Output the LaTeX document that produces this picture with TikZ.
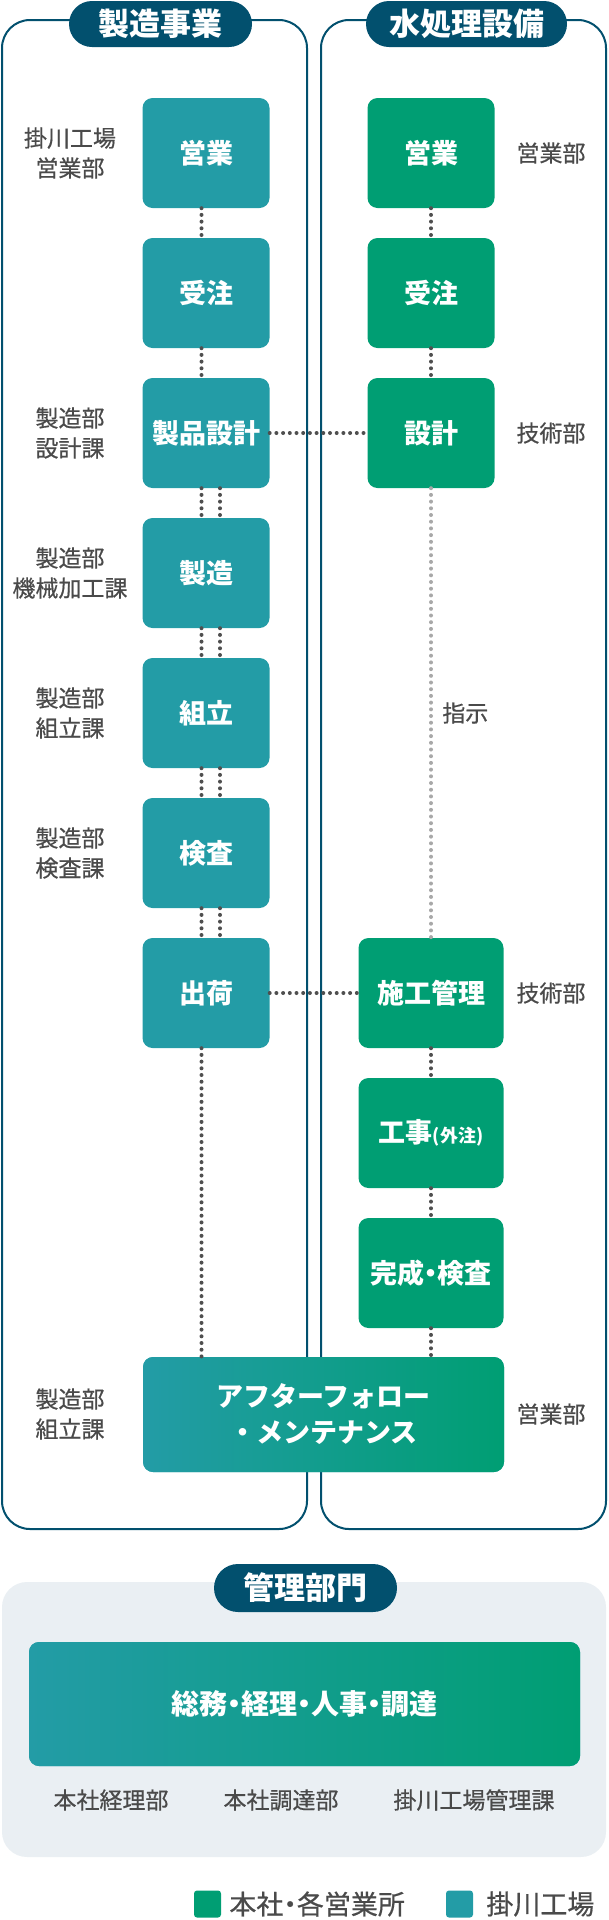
\documentclass[tikz,border=0pt]{standalone}
\usepackage{fontspec}
\setmainfont{Noto Sans CJK JP}
\newfontfamily\medfont{Noto Sans CJK JP}[FakeBold=0.6]
\usepackage{xcolor}
\usepackage{tikz}
\usetikzlibrary{positioning}
\definecolor{facteal}{HTML}{239CA6}
\definecolor{ofcgreen}{HTML}{009E73}
\definecolor{navy}{HTML}{02506E}
\definecolor{labelgray}{HTML}{4A4A4A}
\definecolor{dotgray}{HTML}{4F4F4F}
\definecolor{hintgray}{HTML}{A8A8A8}
\definecolor{bggray}{HTML}{EAEFF3}
\newcommand{\ndot}{\kern-.25em・\kern-.25em}
\tikzset{
  fac/.style={rectangle, rounded corners=10pt, fill=facteal, text=white,
              font=\fontsize{27}{32}\selectfont\bfseries, minimum width=127pt,
              minimum height=110pt, align=center, inner sep=2pt},
  ofc/.style={fac, fill=ofcgreen},
  ttl/.style={rectangle, rounded corners=23pt, fill=navy, text=white,
              font=\fontsize{31}{36}\selectfont\bfseries, minimum height=46pt, inner sep=0pt},
  dept/.style={font=\medfont\fontsize{23}{30}\selectfont, text=labelgray, align=center},
  link/.style={draw=dotgray, line width=4pt, line cap=round, dash pattern=on 0pt off 6.7pt},
  hint/.style={link, draw=hintgray},
  panel/.style={draw=navy, line width=2pt, rounded corners=28pt},
  sq/.style={rectangle, rounded corners=3pt, minimum size=27pt, inner sep=0pt}
}

\begin{document}
\begin{tikzpicture}[x=1pt, y=-1pt]
  \useasboundingbox (0,0) rectangle (609,1920);
  % Panels
  \draw[panel] (2,20) rectangle (307,1529);
  \draw[panel] (321,20) rectangle (606,1529);
  \node[ttl, minimum width=183pt] (tmfg) at (160.5,24) {製造事業};
  \node[ttl, minimum width=201pt] (twtr) at (466.5,24) {水処理設備};
  % Factory column
  \node[fac] (s1) at (206,153) {営業};
  \node[fac] (s2) at (206,293) {受注};
  \node[fac] (s3) at (206,433) {製品設計};
  \node[fac] (s4) at (206,573) {製造};
  \node[fac] (s5) at (206,713) {組立};
  \node[fac] (s6) at (206,853) {検査};
  \node[fac] (s7) at (206,993) {出荷};
  % Water treatment column
  \node[ofc] (w1) at (431,153) {営業};
  \node[ofc] (w2) at (431,293) {受注};
  \node[ofc] (w3) at (431,433) {設計};
  \node[ofc, minimum width=145pt] (w4) at (431,993) {施工管理};
  \node[ofc, minimum width=145pt] (w5) at (431,1133) {工事{\fontsize{18}{20}\selectfont(外注)}};
  \node[ofc, minimum width=145pt] (w6) at (431,1273) {完成\ndot 検査};
  \node[fac, left color=facteal, right color=ofcgreen, minimum width=361pt, minimum height=115pt,
        font=\fontsize{27}{36}\selectfont\bfseries] (after) at (323.5,1414.5) {アフターフォロー\\・メンテナンス};
  % Side labels
  \node[dept] (l1) at (70,153) {掛川工場\\営業部};
  \node[dept] (l3) at (70,433) {製造部\\設計課};
  \node[dept] (l4) at (70,573) {製造部\\機械加工課};
  \node[dept] (l5) at (70,713) {製造部\\組立課};
  \node[dept] (l6) at (70,853) {製造部\\検査課};
  \node[dept] (l8) at (70,1414) {製造部\\組立課};
  \node[dept] (r1) at (551,153) {営業部};
  \node[dept] (r3) at (551,433) {技術部};
  \node[dept] (r7) at (551,993) {技術部};
  \node[dept] (r8) at (551,1414) {営業部};
  % Links
  \foreach \a/\b in {s1/s2, s2/s3}
    \draw[link] ([xshift=-4.5pt]\a.south) -- ([xshift=-4.5pt]\b.north);
  \foreach \a/\b in {s3/s4, s4/s5, s5/s6, s6/s7} {
    \draw[link] ([xshift=-4.5pt]\a.south) -- ([xshift=-4.5pt]\b.north);
    \draw[link] ([xshift=14pt]\a.south) -- ([xshift=14pt]\b.north);
  }
  \draw[link] ([xshift=-4.5pt]s7.south) -- ([xshift=-4.5pt]s7.south |- after.north);
  \foreach \a/\b in {w1/w2, w2/w3, w4/w5, w5/w6}
    \draw[link] (\a.south) -- (\b.north);
  \draw[hint] (w3.south) -- node[dept, right=6pt, pos=0.5] (hnt) {指示} (w4.north);
  \draw[link] (w6.south) -- (w6.south |- after.north);
  \draw[link] (s3.east) -- (w3.west);
  \draw[link] (s7.east) -- (w4.west);
  % Administration
  \fill[bggray, rounded corners=25pt] (2,1582) rectangle (606,1857);
  \node[ttl, minimum width=183pt, minimum height=48pt, rounded corners=24pt] (tadm) at (305.5,1588) {管理部門};
  \node[fac, left color=facteal, right color=ofcgreen, minimum width=551pt, minimum height=124pt,
        font=\fontsize{28}{34}\selectfont\bfseries] (adm) at (304.5,1704) {総務\ndot 経理\ndot 人事\ndot 調達};
  \node[dept] (a1) at (111,1800) {本社経理部};
  \node[dept] (a2) at (281,1800) {本社調達部};
  \node[dept] (a3) at (474,1800) {掛川工場管理課};
  % Legend
  \node[sq, fill=ofcgreen] (lghq) at (207.5,1904) {};
  \node[dept, font=\medfont\fontsize{27}{30}\selectfont, right=8pt of lghq, inner sep=0pt] (lghqt) {本社\ndot 各営業所};
  \node[sq, fill=facteal] (lgfac) at (459.5,1904) {};
  \node[dept, font=\medfont\fontsize{27}{30}\selectfont, right=13pt of lgfac, inner sep=0pt] (lgfact) {掛川工場};
\end{tikzpicture}
\end{document}
